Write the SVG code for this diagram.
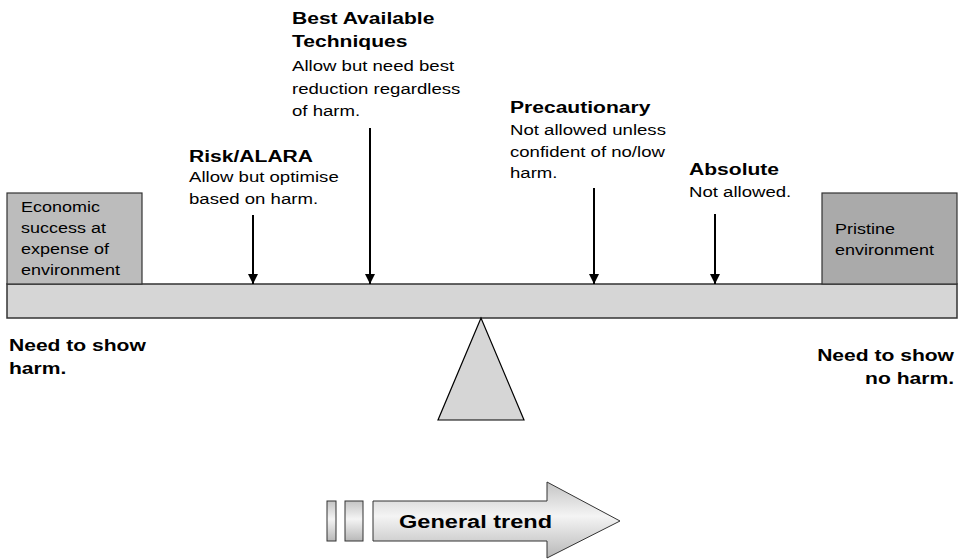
<svg xmlns="http://www.w3.org/2000/svg" width="960" height="559" viewBox="0 0 960 559">
<style>
text{font-family:"Liberation Sans",Arial,sans-serif;fill:#000}
.h{font-weight:bold;font-size:17px}
.s{font-size:15px}
.b{font-size:14.5px}
.n{font-weight:bold;font-size:17px}
.t{font-weight:bold;font-size:19px}
.ar{stroke:#000;stroke-width:2;fill:none}
</style>
<defs>
<marker id="ah" viewBox="0 0 10 10" refX="10" refY="5" markerWidth="10" markerHeight="10" markerUnits="userSpaceOnUse" orient="auto">
<path d="M0,0 L10,5 L0,10 Z" fill="#000"/>
</marker>
<linearGradient id="g" x1="0" y1="0" x2="0" y2="1">
<stop offset="0" stop-color="#c4c4c4"/>
<stop offset="0.45" stop-color="#f4f4f4"/>
<stop offset="1" stop-color="#b8b8b8"/>
</linearGradient>
</defs>
<rect width="960" height="559" fill="#fff"/>
<g id="beam">
<rect x="7" y="284" width="950" height="34" fill="#d6d6d6" stroke="#333" stroke-width="1.5"/>
</g>
<g id="fulcrum">
<polygon points="481,318 438,420 524,420" fill="#d6d6d6" stroke="#000" stroke-width="1.2"/>
</g>
<g id="box-economic">
<rect x="7" y="193" width="135" height="91" fill="#bcbcbc" stroke="#333" stroke-width="1.2"/>
<text class="b" transform="translate(21,212) scale(1.24,1)"><tspan x="0" y="0">Economic</tspan><tspan x="0" y="21">success at</tspan><tspan x="0" y="42">expense of</tspan><tspan x="0" y="63">environment</tspan></text>
</g>
<g id="box-pristine">
<rect x="822" y="193" width="135" height="91" fill="#aaaaaa" stroke="#333" stroke-width="1.2"/>
<text class="b" transform="translate(835,234) scale(1.24,1)"><tspan x="0" y="0">Pristine</tspan><tspan x="0" y="21">environment</tspan></text>
</g>
<g id="risk">
<text transform="translate(189,162) scale(1.24,1)"><tspan class="h" x="0" y="0">Risk/ALARA</tspan><tspan class="s" x="0" y="20">Allow but optimise</tspan><tspan class="s" x="0" y="42">based on harm.</tspan></text>
</g>
<g id="bat">
<text transform="translate(292,24) scale(1.24,1)"><tspan class="h" x="0" y="0">Best Available</tspan><tspan class="h" x="0" y="23">Techniques</tspan><tspan class="s" x="0" y="47">Allow but need best</tspan><tspan class="s" x="0" y="70">reduction regardless</tspan><tspan class="s" x="0" y="92">of harm.</tspan></text>
</g>
<g id="precautionary">
<text transform="translate(510,113) scale(1.24,1)"><tspan class="h" x="0" y="0">Precautionary</tspan><tspan class="s" x="0" y="22">Not allowed unless</tspan><tspan class="s" x="0" y="44">confident of no/low</tspan><tspan class="s" x="0" y="65">harm.</tspan></text>
</g>
<g id="absolute">
<text transform="translate(689,175) scale(1.24,1)"><tspan class="h" x="0" y="0">Absolute</tspan><tspan class="s" x="0" y="22">Not allowed.</tspan></text>
</g>
<g id="need-harm">
<text class="n" transform="translate(9,351) scale(1.24,1)"><tspan x="0" y="0">Need to show</tspan><tspan x="0" y="23">harm.</tspan></text>
</g>
<g id="need-no-harm">
<text class="n" text-anchor="end" transform="translate(954,361) scale(1.24,1)"><tspan x="0" y="0">Need to show</tspan><tspan x="0" y="23">no harm.</tspan></text>
</g>
<g id="connectors">
<line class="ar" x1="253" y1="215" x2="253" y2="284" marker-end="url(#ah)"/>
<line class="ar" x1="370" y1="128" x2="370" y2="284" marker-end="url(#ah)"/>
<line class="ar" x1="594" y1="188" x2="594" y2="284" marker-end="url(#ah)"/>
<line class="ar" x1="715" y1="214" x2="715" y2="284" marker-end="url(#ah)"/>
</g>
<g id="trend">
<rect x="327" y="501" width="9" height="40" fill="url(#g)" stroke="#333" stroke-width="1"/>
<rect x="345" y="501" width="18" height="40" fill="url(#g)" stroke="#333" stroke-width="1"/>
<polygon points="373,501 547,501 547,482 620,521 547,558 547,541 373,541" fill="url(#g)" stroke="#333" stroke-width="1"/>
<text class="t" transform="translate(399,528) scale(1.24,1)">General trend</text>
</g>
</svg>
